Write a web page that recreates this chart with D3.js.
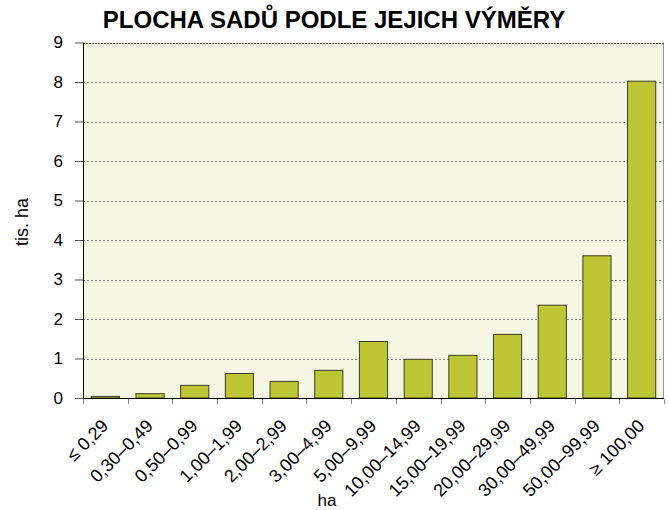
<!DOCTYPE html>
<html><head><meta charset="utf-8">
<script src="https://cdn.jsdelivr.net/npm/d3@7"></script>
<style>body{margin:0;background:#fff}svg{display:block}</style>
</head><body>
<svg id="c" width="668" height="510"></svg>
<script>
const categories = ["≤ 0,29","0,30–0,49","0,50–0,99","1,00–1,99","2,00–2,99","3,00–4,99","5,00–9,99","10,00–14,99","15,00–19,99","20,00–29,99","30,00–49,99","50,00–99,99","≥ 100,00"];
const values = [0.04,0.11,0.32,0.62,0.42,0.70,1.43,0.98,1.08,1.61,2.35,3.60,8.02];
const yTicks = [0,1,2,3,4,5,6,7,8,9];
const title = "PLOCHA SADŮ PODLE JEJICH VÝMĚRY";
const yTitle = "tis. ha";
const xTitle = "ha";

const svg = d3.select("#c");
const m = {l:83, r:4, t:42.5, b:112};
const W = 668, H = 510;
const x = d3.scaleBand().domain(categories).range([m.l, W-m.r]).paddingInner(0.37).paddingOuter(0.185);
const y = d3.scaleLinear().domain([0,9]).range([H-m.b, m.t]);
const font = "Arial, 'Liberation Sans', sans-serif";

svg.append("rect").attr("x",m.l).attr("y",m.t).attr("width",W-m.r-m.l).attr("height",y(0)-m.t).attr("fill","#f5f6e3");
svg.append("line").attr("x1",W-m.r-0.5).attr("x2",W-m.r-0.5).attr("y1",m.t).attr("y2",y(0)).attr("stroke","#999").attr("stroke-width",1);

// gridlines
svg.append("g").selectAll("line").data(yTicks.filter(d=>d>0)).join("line")
  .attr("x1",m.l).attr("x2",W-m.r).attr("y1",d=>Math.round(y(d))+0.5).attr("y2",d=>Math.round(y(d))+0.5)
  .attr("stroke",d=>d===9?"#555":"#888").attr("stroke-width",1).attr("stroke-dasharray",d=>d===9?"2,1":"2,2");

// bars
svg.append("g").selectAll("rect").data(values).join("rect")
  .attr("x",(d,i)=>x(categories[i])).attr("width",x.bandwidth())
  .attr("y",d=>y(d)).attr("height",d=>y(0)-y(d))
  .attr("fill","#bdc735").attr("stroke","#3d3d22").attr("stroke-width",1);

// y axis
const ya = svg.append("g").attr("transform",`translate(${m.l},0)`)
  .call(d3.axisLeft(y).tickValues(yTicks).tickSize(8).tickPadding(12).tickFormat(d3.format("d")));
ya.select(".domain").attr("stroke","#000").attr("d",`M0.5,${m.t}V${y(0)}`);
ya.selectAll(".tick line").attr("stroke","#555");
ya.selectAll("text").attr("font-family",font).attr("font-size","17px").attr("fill","#000");

// x axis
const bounds = d3.range(categories.length+1).map(i=>m.l + i*(W-m.r-m.l)/categories.length);
svg.append("line").attr("x1",m.l).attr("x2",W-m.r).attr("y1",y(0)+0.5).attr("y2",y(0)+0.5).attr("stroke","#000");
svg.append("g").selectAll("line").data(bounds).join("line")
  .attr("x1",d=>Math.round(d)+0.5).attr("x2",d=>Math.round(d)+0.5).attr("y1",y(0)+1).attr("y2",y(0)+6)
  .attr("stroke","#888");
svg.append("g").selectAll("text").data(categories).join("text")
  .attr("transform",d=>`translate(${x(d)+x.bandwidth()/2+4},${y(0)+29}) rotate(-45)`)
  .attr("text-anchor","end").attr("font-family",font).attr("font-size","18px").attr("fill","#000")
  .text(d=>d);

// titles
svg.append("text").attr("x",334).attr("y",28).attr("text-anchor","middle")
  .attr("font-family",font).attr("font-weight","bold").attr("font-size","24px").text(title);
svg.append("text").attr("transform",`translate(28,222) rotate(-90)`).attr("text-anchor","middle")
  .attr("font-family",font).attr("font-size","18px").text(yTitle);
svg.append("text").attr("x",327).attr("y",506).attr("text-anchor","middle")
  .attr("font-family",font).attr("font-size","17px").text(xTitle);
</script>
</body></html>
